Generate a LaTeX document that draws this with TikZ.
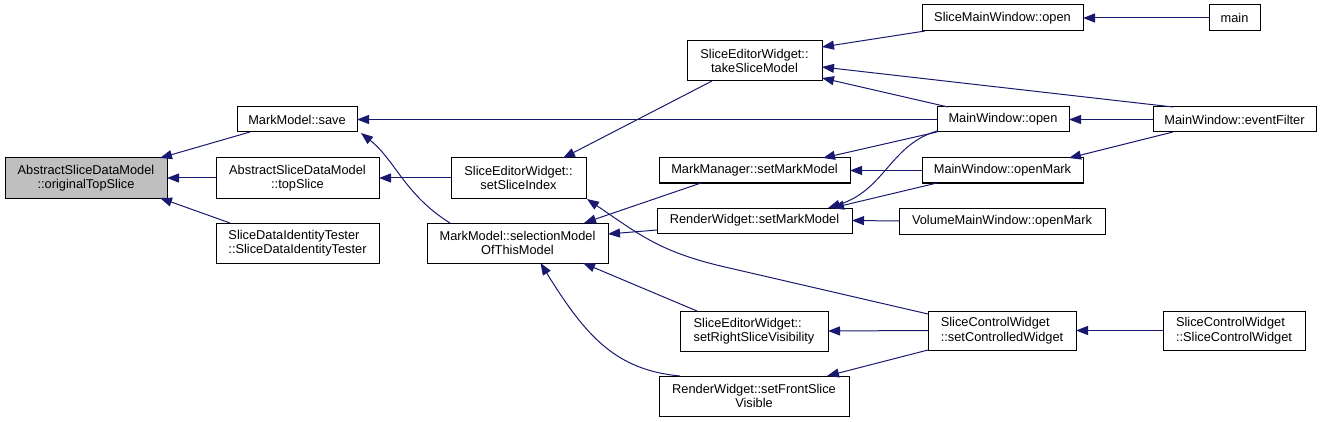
\documentclass[tikz,border=0pt]{standalone}
\usepackage{fontspec}
\setmainfont{Liberation Sans}
\usetikzlibrary{arrows.meta,calc}
\definecolor{edgecol}{HTML}{191970}
\definecolor{hl}{HTML}{BFBFBF}
\begin{document}
\begin{tikzpicture}[x=1pt,y=-1pt,
  box/.style={draw=black,line width=1pt,fill=white,inner sep=0pt,outer sep=0pt,
    font=\fontsize{12.8}{14.5}\selectfont,align=center},
  lbox/.style={box,align=left},
  edge/.style={draw=edgecol,line width=1pt,-{Triangle[length=12pt,width=9pt]}}]
\useasboundingbox (0,0) rectangle (1321,422);
% nodes
\node[box,fill=hl,minimum width=162,minimum height=40] (ots) at (86,178) {AbstractSliceDataModel\\::originalTopSlice};
\node[box,minimum width=120,minimum height=25] (save) at (297,119.5) {MarkModel::save};
\node[box,minimum width=163,minimum height=40] (top) at (297.5,178) {AbstractSliceDataModel\\::topSlice};
\node[lbox,minimum width=163,minimum height=40] (sdit) at (297.5,243) {SliceDataIdentityTester\\::SliceDataIdentityTester};
\node[box,minimum width=181,minimum height=40] (sel) at (517.5,243) {MarkModel::selectionModel\\OfThisModel};
\node[box,minimum width=135,minimum height=40] (take) at (754.5,61) {SliceEditorWidget::\\takeSliceModel};
\node[box,minimum width=135,minimum height=40] (ssi) at (518.5,178) {SliceEditorWidget::\\setSliceIndex};
\node[box,minimum width=191,minimum height=25] (mm) at (754.5,170.5) {MarkManager::setMarkModel};
\node[box,minimum width=195,minimum height=25] (rmm) at (754.5,220.5) {RenderWidget::setMarkModel};
\node[lbox,minimum width=148,minimum height=40] (rsv) at (754,331) {SliceEditorWidget::\\setRightSliceVisibility};
\node[box,minimum width=190,minimum height=40] (fsv) at (754,396) {RenderWidget::setFrontSlice\\Visible};
\node[box,minimum width=161,minimum height=26] (smo) at (1002.5,18) {SliceMainWindow::open};
\node[box,minimum width=51,minimum height=26] (main) at (1234.5,18) {main};
\node[box,minimum width=132,minimum height=25] (mwo) at (1003,119.5) {MainWindow::open};
\node[box,minimum width=163,minimum height=25] (ef) at (1234.5,119.5) {MainWindow::eventFilter};
\node[box,minimum width=161,minimum height=25] (mwom) at (1002.5,170.5) {MainWindow::openMark};
\node[box,minimum width=206,minimum height=26] (vmo) at (1002,221) {VolumeMainWindow::openMark};
\node[lbox,minimum width=148,minimum height=39] (scw) at (1002,330.5) {SliceControlWidget\\::setControlledWidget};
\node[lbox,minimum width=142,minimum height=39] (scc) at (1234,330.5) {SliceControlWidget\\::SliceControlWidget};
% edges
\draw[edge] ($(save.south west)+(13,0)$) -- ($(ots.north east)+(-7,0)$);
\draw[edge] (top.west) -- (ots.east);
\draw[edge] ($(sdit.north west)+(14,0)$) -- ($(ots.south east)+(-7,0)$);
\draw[edge] (mwo.west) -- (save.east);
\draw[edge] ($(sel.north west)+(23,0)$) .. controls (405,195) and (395,160) .. ($(save.south east)+(4,1)$);
\draw[edge] (ssi.west) -- (top.east);
\draw[edge] ($(take.south west)+(25,0)$) -- ($(ssi.north west)+(112,0)$);
\draw[edge] ($(smo.south west)+(3,0)$) -- ($(take.north east)+(0,6)$);
\draw[edge] ($(ef.north west)+(20,0)$) -- ($(take.east)+(0,6)$);
\draw[edge] ($(mwo.north west)+(11,0)$) -- ($(take.south east)+(0,-3)$);
\draw[edge] (main.west) -- (smo.east);
\draw[edge] (ef.west) -- (mwo.east);
\draw[edge] ($(ef.south west)+(20,0)$) -- ($(mwom.north east)+(-14,0)$);
\draw[edge] (mwo.south west) -- ($(mm.north east)+(-27,0)$);
\draw[edge] (mwom.west) -- (mm.east);
\draw[edge] ($(mwo.south west)+(0,-1)$) .. controls (890,145) and (885,190) .. ($(rmm.north east)+(-24,0)$);
\draw[edge] ($(mwom.south west)+(15,0)$) -- ($(rmm.north east)+(-20,0)$);
\draw[edge] (vmo.west) -- (rmm.west -| rmm.east);
\draw[edge] ($(mm.south west)+(42,0)$) -- ($(sel.north east)+(-24,0)$);
\draw[edge] ($(rmm.south west)+(0,-3)$) -- ($(sel.north east)+(0,11)$);
\draw[edge] ($(rsv.north west)+(17,0)$) -- ($(sel.south east)+(-25,0)$);
\draw[edge] ($(fsv.north west)+(21,0)$) .. controls (615,370) and (585,335) .. ($(sel.south)+(23,0)$);
\draw[edge] ($(scw.north west)+(0,3)$) -- (725,267) .. controls (660,252) and (640,235) .. ($(ssi.south east)+(1,1)$);
\draw[edge] (scw.west) -- (rsv.east);
\draw[edge] (scw.south west) -- ($(fsv.north east)+(-22,0)$);
\draw[edge] (scc.west) -- (scw.east);
\end{tikzpicture}
\end{document}
